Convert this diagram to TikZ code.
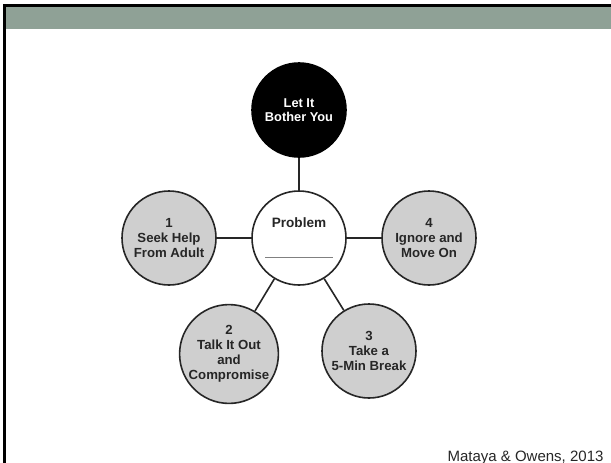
\documentclass[tikz,border=0pt]{standalone}
\usepackage{fontspec}
\setmainfont{Liberation Sans}
\usetikzlibrary{positioning}
\definecolor{bandgreen}{RGB}{143,161,150}
\definecolor{choicegray}{RGB}{207,207,207}
\definecolor{rimgray}{RGB}{38,38,38}
\tikzset{
	choice/.style={circle, draw=rimgray, line width=1.6pt, fill=choicegray, minimum size=94pt, inner sep=0pt, align=center, text=rimgray, font=\bfseries\fontsize{13.2}{15}\selectfont}, % the grey option circles
	hub/.style={choice, fill=white, font=\bfseries\fontsize{13.6}{15}\selectfont}, % the problem in the middle
	urge/.style={choice, draw=black, fill=black, text=white, font=\bfseries\fontsize{12.8}{14}\selectfont}, % the black circle on top
	link/.style={draw=rimgray, line width=1.6pt}, % spokes
}

\begin{document}
\begin{tikzpicture}[x=1pt, y=-1pt, node distance=130pt, on grid]
		\useasboundingbox (0,0) rectangle (611,463);
		% slide frame
		\fill[black] (3,4) rectangle (611,7);
		\fill[bandgreen] (6,7) rectangle (611,29);
		\fill[black] (3,4) rectangle (6,463);
		
		% Define the circles
		\node[hub] (prob) at (299,238) {Problem\\[15pt]\textcolor{gray}{\rule{68pt}{0.6pt}}};
		\node[urge, above=128pt of prob] (bother) {Let It\\Bother You};
		\node[choice, left=of prob] (seek) {1\\Seek Help\\From Adult};
		\node[choice, below left=116pt and 70pt of prob] (talk) {2\\Talk It Out\\and\\Compromise};
		\node[choice, below right=113pt and 70pt of prob] (pause) {3\\Take a\\5-Min Break};
		\node[choice, right=of prob] (ignore) {4\\Ignore and\\Move On};
		
		% Spokes
		\path[link]
		(prob) edge (bother)
		(prob) edge (seek)
		(prob) edge (talk)
		(prob) edge (pause)
		(prob) edge (ignore);
		
		\node[anchor=base east, text=rimgray, font=\fontsize{15}{18}\selectfont] (cite) at (607,461) {Mataya \& Owens, 2013};
	\end{tikzpicture}
\end{document}
